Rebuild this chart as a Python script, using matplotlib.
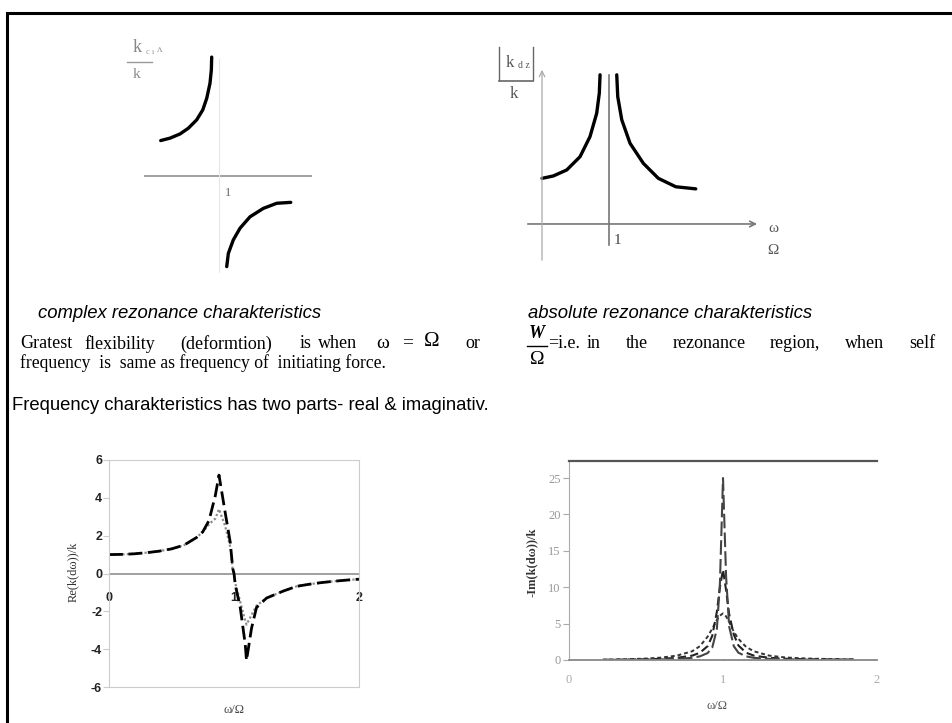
import matplotlib
matplotlib.use("Agg")
import matplotlib.pyplot as plt

W, H = 953, 723

# --- sketch: complex resonance characteristic k_dz/k vs w/Omega ---
cplx_low_w = [0.212, 0.338, 0.473, 0.585, 0.698, 0.780, 0.834, 0.878, 0.896, 0.901]
cplx_low_k = [1.18, 1.26, 1.40, 1.59, 1.87, 2.20, 2.59, 3.09, 3.53, 3.96]
cplx_high_w = [1.104, 1.126, 1.193, 1.284, 1.419, 1.599, 1.780, 1.969]
cplx_high_k = [-3.02, -2.58, -2.13, -1.74, -1.36, -1.08, -0.91, -0.88]

# --- sketch: absolute resonance characteristic |k_dz|/k vs w/Omega ---
abs_low_w = [0.0, 0.169, 0.369, 0.567, 0.716, 0.816, 0.855, 0.866]
abs_low_k = [1.52, 1.60, 1.80, 2.24, 2.91, 3.69, 4.36, 4.97]
abs_high_w = [1.115, 1.130, 1.190, 1.313, 1.512, 1.736, 1.996, 2.294]
abs_high_k = [4.97, 4.24, 3.47, 2.69, 2.02, 1.52, 1.24, 1.17]

# --- real part Re(k(dw))/k ---
re_w = [0.0, 0.1, 0.2, 0.3, 0.4, 0.5, 0.6, 0.7, 0.75, 0.8, 0.85, 0.88, 0.93,
        0.97, 0.99, 1.0, 1.01, 1.05, 1.09, 1.1, 1.14, 1.18, 1.26, 1.39, 1.5,
        1.6, 1.7, 1.8, 1.9, 2.0]
re_small_damp = [1.0, 1.01, 1.04, 1.1, 1.18, 1.3, 1.5, 1.9, 2.2, 2.8, 4.1, 5.2, 3.2,
                 1.65, 0.26, 0.0, -0.6, -1.8, -3.75, -4.6, -2.9, -1.8, -1.3, -0.94, -0.68,
                 -0.57, -0.48, -0.41, -0.35, -0.3]
re_large_damp = [1.0, 1.01, 1.04, 1.1, 1.18, 1.3, 1.5, 1.9, 2.2, 2.6, 2.9, 3.4, 2.5,
                 1.4, 0.2, 0.0, -0.5, -1.5, -2.5, -2.7, -2.2, -1.7, -1.3, -0.94, -0.68,
                 -0.57, -0.48, -0.41, -0.35, -0.3]

# --- imaginary part -Im(k(dw))/k ---
im_w = [0.22, 0.4, 0.5, 0.6, 0.7, 0.8, 0.85, 0.9, 0.93, 0.96, 0.98, 1.0, 1.02,
        1.04, 1.07, 1.1, 1.15, 1.2, 1.3, 1.4, 1.5, 1.6, 1.85]
im_d1 = [0.01, 0.03, 0.05, 0.08, 0.15, 0.3, 0.5, 0.95, 1.7, 4.2, 10.5, 25.0, 11.5,
         4.6, 1.9, 1.0, 0.5, 0.3, 0.15, 0.1, 0.06, 0.04, 0.02]
im_d2 = [0.02, 0.06, 0.1, 0.16, 0.3, 0.6, 1.0, 1.9, 3.3, 6.6, 10.0, 12.4, 9.6,
         6.3, 3.5, 2.0, 1.0, 0.6, 0.3, 0.18, 0.12, 0.09, 0.04]
im_d3 = [0.04, 0.12, 0.2, 0.33, 0.6, 1.2, 1.9, 3.2, 4.3, 5.5, 6.1, 6.4, 6.0,
         5.2, 3.9, 2.9, 1.8, 1.2, 0.6, 0.36, 0.24, 0.17, 0.08]
im_d0 = [0.0] * len(im_w)

re_ticks = [-6, -4, -2, 0, 2, 4, 6]
im_ticks = [0, 5, 10, 15, 20, 25]

# justified body lines: (word, left x)
line1_left = [("Gratest", 20), ("flexibility", 84), ("(deformtion)", 180),
              ("is", 300), ("when", 318)]
line1_right = [("in", 587), ("the", 626), ("rezonance", 673), ("region,", 770),
               ("when", 845), ("self", 909)]

SERIF = "Liberation Serif"
SANS = "Liberation Sans"

fig = plt.figure(figsize=(W / 100, H / 100), dpi=100)
bg = fig.add_axes([0, 0, 1, 1])
bg.set_xlim(0, W)
bg.set_ylim(H, 0)
bg.axis("off")


def px_axes(x0, y0, x1, y1):
    return fig.add_axes([x0 / W, 1 - y1 / H, (x1 - x0) / W, (y1 - y0) / H])


# slide frame
bg.plot([7.5, 7.5, W], [H, 12.5, 12.5], color="black", lw=2.2, solid_joinstyle="miter")

# complex characteristic sketch
ax1 = px_axes(140, 40, 315, 275)
ax1.set_xlim(-0.068, 2.297)
ax1.set_ylim(-3.3, 4.53)
ax1.axis("off")
ax1.plot([0, 2.24], [0, 0], color="#999999", lw=1.3)
ax1.plot([1, 1], [-3.2, 3.9], color="#e6e6e6", lw=0.8)
ax1.plot(cplx_low_w, cplx_low_k, color="black", lw=2.4, solid_capstyle="round")
ax1.plot(cplx_high_w, cplx_high_k, color="black", lw=2.4, solid_capstyle="round")
bg.text(228, 193, "1", fontsize=9, family=SERIF, color="#666666", ha="center", va="center")
bg.text(137, 48, "k", fontsize=13, family=SERIF, color="#888888", ha="center", va="center")
bg.text(150, 52, "c ı", fontsize=6, family=SERIF, color="#999999", ha="center", va="center")
bg.text(160, 50, "ʌ", fontsize=8, family=SERIF, color="#999999", ha="center", va="center")
bg.plot([127, 152], [62, 62], color="#999999", lw=1)
bg.text(137, 75, "k", fontsize=11, family=SERIF, color="#888888", ha="center", va="center")

# absolute characteristic sketch
ax2 = px_axes(515, 40, 790, 275)
ax2.set_xlim(-0.403, 3.70)
ax2.set_ylim(-1.7, 6.13)
ax2.axis("off")
ax2.annotate("", xy=(3.25, 0), xytext=(-0.254, 0),
             arrowprops=dict(arrowstyle="->", color="#777777", lw=1.2))
ax2.annotate("", xy=(0, 5.23), xytext=(0, -1.3),
             arrowprops=dict(arrowstyle="->", color="#aaaaaa", lw=0.9))
ax2.plot([1, 1], [-0.7, 4.97], color="#777777", lw=1.2)
ax2.plot(abs_low_w, abs_low_k, color="black", lw=2.4, solid_capstyle="round")
ax2.plot(abs_high_w, abs_high_k, color="black", lw=2.4, solid_capstyle="round")
bg.text(617, 241, "1", fontsize=11, family=SERIF, color="#444444", ha="center", va="center")
bg.text(773, 228, "ω", fontsize=11, family=SERIF, color="#555555", ha="center", va="center")
bg.text(773, 250, "Ω", fontsize=11, family=SERIF, color="#555555", ha="center", va="center")
bg.plot([499, 499], [47, 80], color="#666666", lw=1)
bg.plot([533, 533], [47, 80], color="#666666", lw=1)
bg.plot([499, 533], [80.5, 80.5], color="#666666", lw=1.2)
bg.text(510, 63, "k", fontsize=12, family=SERIF, color="#555555", ha="center", va="center")
bg.text(524, 66, "d z", fontsize=7, family=SERIF, color="#555555", ha="center", va="center")
bg.text(514, 94, "k", fontsize=12, family=SERIF, color="#555555", ha="center", va="center")

# captions and body text
bg.text(38, 313, "complex rezonance charakteristics", fontsize=13.3, family=SANS,
        style="italic", ha="left", va="center")
bg.text(528, 313, "absolute rezonance charakteristics", fontsize=13.3, family=SANS,
        style="italic", ha="left", va="center")
for word, x in line1_left:
    bg.text(x, 344, word, fontsize=13, family=SERIF, ha="left", va="center")
bg.text(376, 344, "ω", fontsize=14, family=SERIF, ha="left", va="center")
bg.text(402, 343, "=", fontsize=14, family=SERIF, ha="left", va="center")
bg.text(424, 342, "Ω", fontsize=15, family=SERIF, ha="left", va="center")
bg.text(465, 344, "or", fontsize=13, family=SERIF, ha="left", va="center")
bg.text(537, 334, "W", fontsize=13, family=SERIF, style="italic", weight="bold",
        ha="center", va="center")
bg.plot([527, 547], [346, 346], color="black", lw=1)
bg.text(537, 359, "Ω", fontsize=14, family=SERIF, ha="center", va="center")
bg.text(548, 344, "=i.e.", fontsize=13, family=SERIF, ha="left", va="center")
for word, x in line1_right:
    bg.text(x, 344, word, fontsize=13, family=SERIF, ha="left", va="center")
bg.text(20, 363, "frequency  is  same as frequency of  initiating force.", fontsize=12.7,
        family=SERIF, ha="left", va="center")
bg.text(12, 406, "Frequency charakteristics has two parts- real & imaginativ.",
        fontsize=13.3, family=SANS, ha="left", va="center")

# real part chart
ax3 = px_axes(109, 460, 359, 687)
ax3.set_xlim(0, 2)
ax3.set_ylim(-6, 6)
for s in ax3.spines.values():
    s.set_color("#cccccc")
ax3.axhline(0, color="#999999", lw=1.3)
ax3.plot(re_w, re_large_damp, color="#8c8c8c", lw=1.6, ls=(0, (1, 1)))
ax3.plot(re_w, re_small_damp, color="black", lw=2.0, ls=(0, (5, 2)))
ax3.set_xticks([])
ax3.set_yticks(re_ticks)
ax3.set_yticklabels([str(t) for t in re_ticks], family=SANS, weight="bold", fontsize=9,
                    color="#222222")
ax3.tick_params(axis="y", direction="out", length=4, color="#cccccc", pad=1)
for xv, lab in [(0, "0"), (1, "1"), (2, "2")]:
    ax3.text(xv, -1.3, lab, family=SANS, weight="bold", fontsize=9, color="#222222",
             ha="center", va="center", zorder=0)
bg.text(73, 572, "Re(k(dω))/k", rotation=90, family=SERIF, fontsize=9, color="#333333",
        ha="center", va="center")
bg.text(234, 710, "ω/Ω", family=SERIF, fontsize=9, color="#444444", ha="center", va="center")

# imaginary part chart
ax4 = px_axes(569, 461, 877, 660)
ax4.set_xlim(0, 2)
ax4.set_ylim(0, 27.34)
ax4.spines["right"].set_visible(False)
ax4.spines["left"].set_color("#aaaaaa")
ax4.spines["bottom"].set_color("#888888")
ax4.spines["bottom"].set_linewidth(1.3)
ax4.spines["top"].set_color("#555555")
ax4.spines["top"].set_linewidth(1.6)
ax4.plot(im_w, im_d0, color="#999999", lw=1.2, ls=(0, (1, 2)))
ax4.plot(im_w, im_d3, color="#333333", lw=1.4, ls=(0, (2, 1.5)))
ax4.plot(im_w, im_d2, color="#222222", lw=1.5, ls=(0, (4, 2)))
ax4.plot(im_w, im_d1, color="#444444", lw=1.5, ls=(0, (7, 2)))
ax4.set_xticks([])
ax4.set_yticks(im_ticks)
ax4.set_yticklabels([str(t) for t in im_ticks], family=SERIF, fontsize=9, color="#999999")
ax4.tick_params(axis="y", direction="out", length=4, color="#aaaaaa", pad=2)
for xv, lab in [(0, "0"), (1, "1"), (2, "2")]:
    ax4.text(xv, -2.75, lab, family=SERIF, fontsize=9, color="#aaaaaa",
             ha="center", va="center", clip_on=False)
bg.text(532, 562, "-Im(k(dω))/k", rotation=90, family=SERIF, fontsize=9,
        weight="bold", color="#333333", ha="center", va="center")
bg.text(717, 706, "ω/Ω", family=SERIF, fontsize=9, color="#555555", ha="center", va="center")

fig.savefig("out.png", dpi=100)
